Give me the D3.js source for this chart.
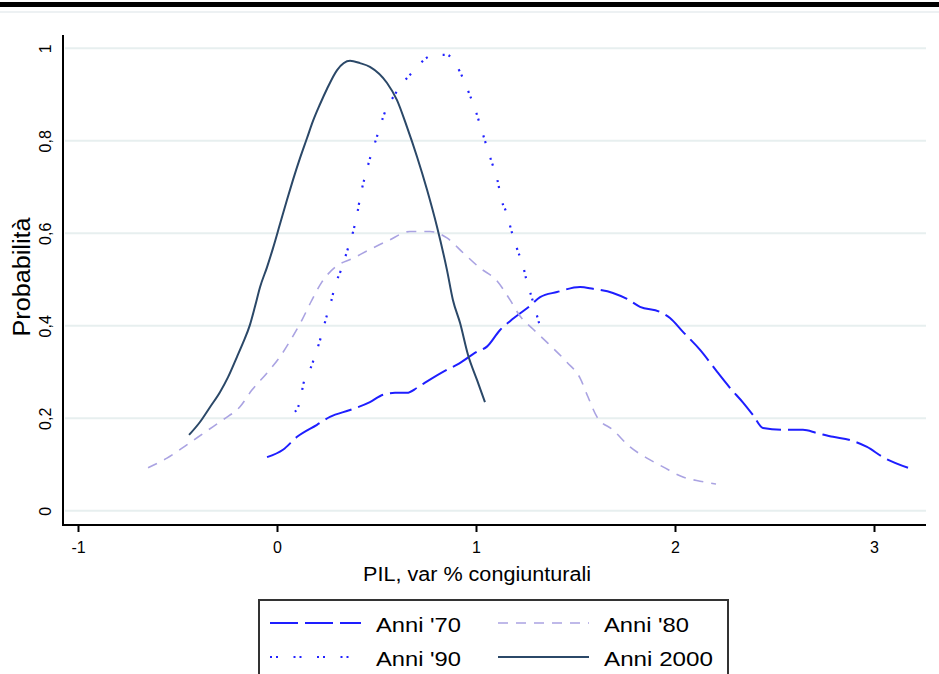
<!DOCTYPE html>
<html>
<head>
<meta charset="utf-8">
<script src="https://cdn.jsdelivr.net/npm/d3@7"></script>
<style>
  html, body { margin: 0; padding: 0; background: #ffffff; }
  svg { display: block; font-family: "Liberation Sans", Arial, sans-serif; }
</style>
</head>
<body>
<svg id="chart" width="939" height="674"></svg>
<script>
// Densità stimate della crescita congiunturale del PIL per decennio
const xTicks = [-1, 0, 1, 2, 3];
const yTicks = [0, 0.2, 0.4, 0.6, 0.8, 1];

const seriesNames = ["Anni '70", "Anni '80", "Anni '90", "Anni 2000"];

const x70 = [-0.050, 0.030, 0.101, 0.201, 0.266, 0.367, 0.467, 0.533, 0.593, 0.653, 0.704, 0.744, 0.854, 0.905, 1.005, 1.055, 1.121, 1.171, 1.271, 1.322, 1.407, 1.523, 1.588, 1.688, 1.759, 1.824, 1.925, 1.975, 2.040, 2.126, 2.211, 2.276, 2.342, 2.392, 2.442, 2.543, 2.643, 2.714, 2.794, 2.879, 2.965, 3.045, 3.171];
const y70 = [0.116, 0.132, 0.160, 0.186, 0.203, 0.218, 0.235, 0.251, 0.255, 0.255, 0.266, 0.277, 0.305, 0.316, 0.344, 0.355, 0.391, 0.410, 0.443, 0.462, 0.473, 0.484, 0.480, 0.471, 0.458, 0.441, 0.430, 0.417, 0.387, 0.348, 0.301, 0.266, 0.234, 0.207, 0.179, 0.175, 0.175, 0.168, 0.160, 0.153, 0.138, 0.116, 0.093];

const x80 = [-0.648, -0.553, -0.462, -0.352, -0.271, -0.186, -0.126, -0.050, 0.015, 0.075, 0.126, 0.171, 0.226, 0.296, 0.377, 0.467, 0.558, 0.668, 0.769, 0.854, 0.935, 1.020, 1.106, 1.171, 1.221, 1.286, 1.362, 1.457, 1.523, 1.563, 1.608, 1.688, 1.774, 1.859, 1.940, 2.040, 2.126, 2.206];
const y80 = [0.093, 0.114, 0.140, 0.173, 0.197, 0.225, 0.261, 0.298, 0.333, 0.374, 0.413, 0.452, 0.495, 0.528, 0.545, 0.565, 0.584, 0.604, 0.604, 0.590, 0.558, 0.525, 0.497, 0.456, 0.421, 0.393, 0.362, 0.321, 0.287, 0.246, 0.203, 0.175, 0.138, 0.114, 0.095, 0.073, 0.064, 0.058];

const x90 = [0.090, 0.121, 0.131, 0.161, 0.191, 0.221, 0.251, 0.271, 0.291, 0.322, 0.357, 0.382, 0.402, 0.422, 0.442, 0.472, 0.503, 0.523, 0.553, 0.583, 0.633, 0.704, 0.744, 0.794, 0.854, 0.894, 0.945, 0.965, 0.995, 1.025, 1.045, 1.075, 1.106, 1.131, 1.151, 1.181, 1.206, 1.236, 1.256, 1.281, 1.307, 1.327];
const y90 = [0.214, 0.246, 0.272, 0.300, 0.335, 0.376, 0.423, 0.451, 0.486, 0.521, 0.568, 0.603, 0.640, 0.687, 0.722, 0.769, 0.810, 0.838, 0.873, 0.894, 0.925, 0.959, 0.977, 0.986, 0.986, 0.968, 0.925, 0.903, 0.869, 0.828, 0.800, 0.759, 0.718, 0.668, 0.647, 0.601, 0.567, 0.530, 0.495, 0.460, 0.421, 0.391];

const x2000 = [-0.442, -0.387, -0.337, -0.286, -0.246, -0.201, -0.171, -0.136, -0.111, -0.085, -0.050, -0.020, 0.015, 0.050, 0.080, 0.116, 0.151, 0.181, 0.216, 0.251, 0.302, 0.367, 0.417, 0.467, 0.553, 0.603, 0.653, 0.704, 0.754, 0.804, 0.854, 0.884, 0.920, 0.960, 1.005, 1.045];
const y2000 = [0.164, 0.192, 0.224, 0.257, 0.289, 0.333, 0.363, 0.402, 0.441, 0.484, 0.527, 0.568, 0.620, 0.672, 0.715, 0.763, 0.806, 0.843, 0.879, 0.912, 0.953, 0.973, 0.968, 0.960, 0.925, 0.888, 0.830, 0.765, 0.694, 0.614, 0.521, 0.456, 0.406, 0.337, 0.283, 0.235];

const seriesX = [x70, x80, x90, x2000];
const seriesY = [y70, y80, y90, y2000];

// Stile di ciascuna curva
const styles = [
  { color: "#1e1eff", width: 2,   dash: "28,7" },
  { color: "#aaa3e2", width: 1.6, dash: "10,8" },
  { color: "#2222ff", width: 2.2, dash: "2,4,2,15.5" },
  { color: "#2b4868", width: 2,   dash: null }
];

const svg = d3.select("#chart");

// Cornice superiore
svg.append("rect").attr("x", 0).attr("y", 2).attr("width", 939).attr("height", 5).attr("fill", "#000");
svg.append("line").attr("x1", 0).attr("x2", 939).attr("y1", 12).attr("y2", 12)
  .attr("stroke", "#edf1f3").attr("stroke-width", 2);

const x = d3.scaleLinear().domain([-1, 3]).range([78, 874]);
const y = d3.scaleLinear().domain([0, 1]).range([510.8, 48.3]);

const plotLeft = 63, plotRight = 926, axisY = 525;

// Griglia orizzontale
svg.append("g")
  .selectAll("line")
  .data(yTicks)
  .join("line")
  .attr("x1", plotLeft + 2).attr("x2", plotRight)
  .attr("y1", d => y(d)).attr("y2", d => y(d))
  .attr("stroke", "#e7efef").attr("stroke-width", 2);

const fmt = d => String(d).replace(".", ",");

// Asse X
const gx = svg.append("g")
  .attr("transform", `translate(0,${axisY})`)
  .call(d3.axisBottom(x).tickValues(xTicks).tickFormat(fmt).tickSize(7).tickSizeOuter(0).tickPadding(10));
gx.select(".domain").remove();
gx.append("line").attr("x1", plotLeft - 1).attr("x2", plotRight).attr("y1", 0).attr("y2", 0)
  .attr("stroke", "#000").attr("stroke-width", 2);
gx.selectAll(".tick line").attr("stroke", "#000").attr("stroke-width", 2);
gx.selectAll(".tick text").attr("fill", "#000").attr("font-size", 16)
  .attr("font-family", "Liberation Sans, Arial, sans-serif");

// Asse Y
const gy = svg.append("g")
  .attr("transform", `translate(${plotLeft},0)`)
  .call(d3.axisLeft(y).tickValues(yTicks).tickFormat(fmt).tickSize(0).tickPadding(0));
gy.select(".domain").remove();
gy.append("line").attr("x1", 0).attr("x2", 0).attr("y1", 35).attr("y2", axisY)
  .attr("stroke", "#000").attr("stroke-width", 2);
gy.selectAll(".tick text")
  .attr("fill", "#000").attr("font-size", 16)
  .attr("font-family", "Liberation Sans, Arial, sans-serif")
  .attr("text-anchor", "middle")
  .attr("x", 0).attr("dy", 0)
  .attr("transform", "translate(-18,0) rotate(-90)")
  .attr("dominant-baseline", "central");

// Titoli degli assi
svg.append("text")
  .attr("x", 477).attr("y", 581)
  .attr("text-anchor", "middle")
  .attr("font-size", 20)
  .attr("textLength", 228)
  .attr("lengthAdjust", "spacingAndGlyphs")
  .attr("fill", "#000")
  .text("PIL, var % congiunturali");

svg.append("text")
  .attr("transform", "translate(30,277) rotate(-90)")
  .attr("text-anchor", "middle")
  .attr("font-size", 23)
  .attr("textLength", 119)
  .attr("lengthAdjust", "spacingAndGlyphs")
  .attr("fill", "#000")
  .text("Probabilità");

// Curve di densità
const line = d3.line()
  .x(d => x(d[0]))
  .y(d => y(d[1]))
  .curve(d3.curveMonotoneX);

seriesX.forEach((xs, i) => {
  const pts = xs.map((v, j) => [v, seriesY[i][j]]);
  const s = styles[i];
  svg.append("path")
    .datum(pts)
    .attr("d", line)
    .attr("fill", "none")
    .attr("stroke", s.color)
    .attr("stroke-width", s.width)
    .attr("stroke-dasharray", s.dash);
});

// Legenda
const lg = svg.append("g");
lg.append("rect")
  .attr("x", 259).attr("y", 600).attr("width", 469).attr("height", 90)
  .attr("fill", "#fff").attr("stroke", "#333").attr("stroke-width", 2);

const legendPos = [
  { lx: 270, tx: 376, cy: 624, w: 85 },
  { lx: 498, tx: 604, cy: 624, w: 85 },
  { lx: 270, tx: 376, cy: 658, w: 85 },
  { lx: 498, tx: 604, cy: 658, w: 109 }
];

seriesNames.forEach((name, i) => {
  const p = legendPos[i];
  const s = styles[i];
  lg.append("line")
    .attr("x1", p.lx).attr("x2", p.lx + 91)
    .attr("y1", p.cy - 1).attr("y2", p.cy - 1)
    .attr("stroke", s.color).attr("stroke-width", s.width)
    .attr("stroke-dasharray", s.dash);
  lg.append("text")
    .attr("x", p.tx).attr("y", p.cy)
    .attr("dominant-baseline", "central")
    .attr("font-size", 21)
    .attr("textLength", p.w)
    .attr("lengthAdjust", "spacingAndGlyphs")
    .attr("fill", "#000")
    .text(name);
});
</script>
</body>
</html>
